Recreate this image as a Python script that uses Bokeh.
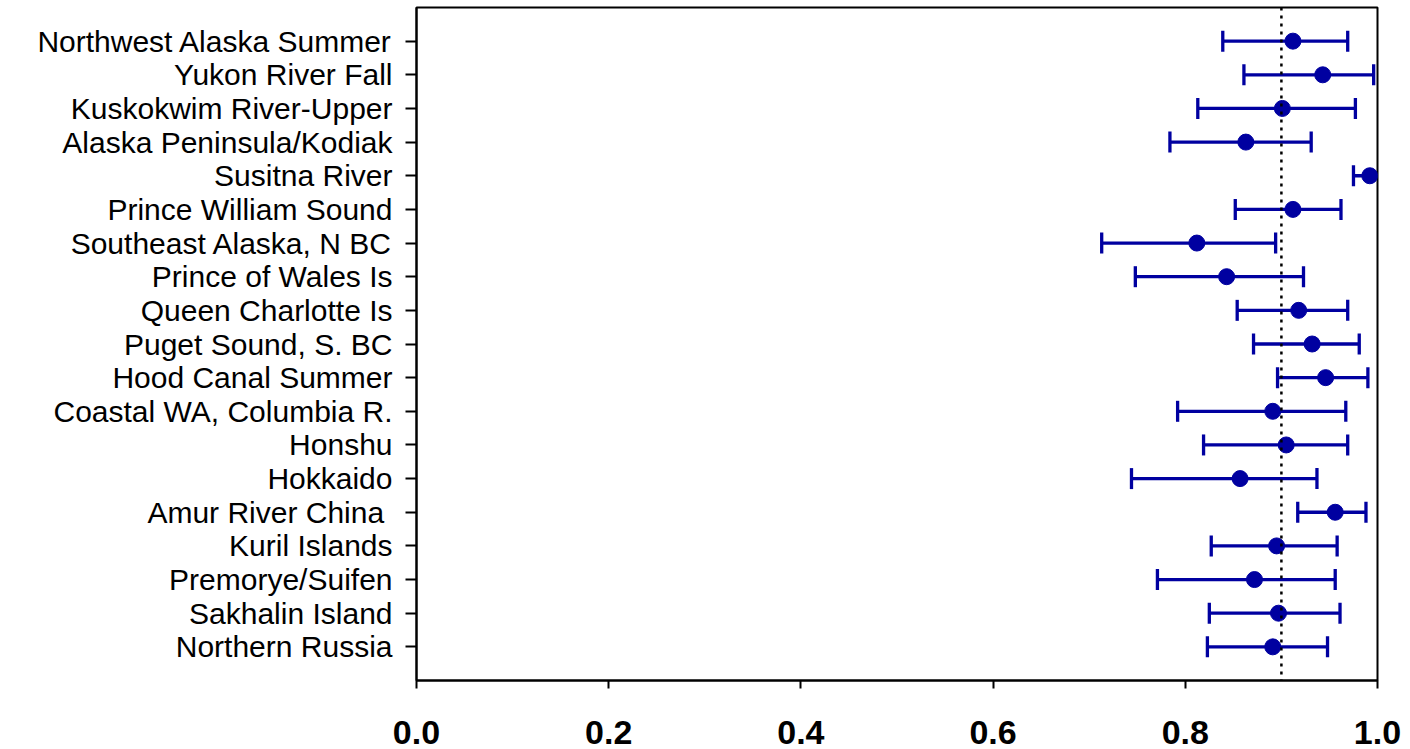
import math
from bokeh.plotting import figure
from bokeh.models import ColumnDataSource, FactorRange, Range1d, Span, FixedTicker
from bokeh.embed import file_html
from bokeh.resources import INLINE

regions = [
    "Northwest Alaska Summer", "Yukon River Fall", "Kuskokwim River-Upper",
    "Alaska Peninsula/Kodiak", "Susitna River", "Prince William Sound",
    "Southeast Alaska, N BC", "Prince of Wales Is", "Queen Charlotte Is",
    "Puget Sound, S. BC", "Hood Canal Summer", "Coastal WA, Columbia R.",
    "Honshu", "Hokkaido", "Amur River China ", "Kuril Islands",
    "Premorye/Suifen", "Sakhalin Island", "Northern Russia",
]
estimate = [0.912, 0.943, 0.901, 0.863, 0.992, 0.912, 0.812, 0.843, 0.918,
            0.932, 0.946, 0.891, 0.905, 0.857, 0.956, 0.895, 0.872, 0.897, 0.891]
lower = [0.839, 0.861, 0.813, 0.784, 0.975, 0.852, 0.713, 0.748, 0.854,
         0.871, 0.896, 0.792, 0.819, 0.744, 0.917, 0.827, 0.771, 0.825, 0.823]
upper = [0.969, 0.996, 0.977, 0.931, 1.010, 0.962, 0.894, 0.923, 0.969,
         0.981, 0.990, 0.967, 0.969, 0.937, 0.988, 0.958, 0.956, 0.961, 0.948]
x_ticks = [0.0, 0.2, 0.4, 0.6, 0.8, 1.0]
reference_line = 0.9

BLUE = "#0000A0"

src = ColumnDataSource(dict(region=regions, est=estimate, lo=lower, hi=upper))

p = figure(
    width=1410, height=749,
    y_range=FactorRange(factors=regions[::-1], range_padding=0.5,
                        range_padding_units="absolute"),
    x_range=Range1d(0, 1),
    output_backend="svg", toolbar_location=None,
    min_border_left=416, min_border_right=33, min_border_top=7,
    min_border_bottom=69,
)
p.xgrid.visible = False
p.ygrid.visible = False
p.outline_line_color = "black"
p.outline_line_width = 2
p.background_fill_color = "white"
p.border_fill_color = "white"

p.segment(x0="lo", y0="region", x1="hi", y1="region", source=src,
          line_color=BLUE, line_width=3.3)
p.scatter(x="lo", y="region", source=src, marker="dash", size=21,
          angle=math.pi / 2, line_color=BLUE, line_width=3.3)
p.scatter(x="hi", y="region", source=src, marker="dash", size=21,
          angle=math.pi / 2, line_color=BLUE, line_width=3.3)
p.scatter(x="est", y="region", source=src, marker="circle", size=16,
          fill_color=BLUE, line_color=BLUE)

p.add_layout(Span(location=reference_line, dimension="height",
                  line_color="black", line_width=2.5, line_dash="3 5"))

xa = p.xaxis[0]
xa.ticker = FixedTicker(ticks=x_ticks)
xa.major_label_overrides = {t: f"{t:.1f}" for t in x_ticks}
xa.minor_tick_line_color = None
xa.major_tick_in = 0
xa.major_tick_out = 8
xa.major_tick_line_width = 2
xa.axis_line_width = 2
xa.axis_line_color = "black"
xa.major_tick_line_color = "black"
xa.major_label_text_font = "Liberation Sans"
xa.major_label_text_font_style = "bold"
xa.major_label_text_font_size = "34px"
xa.major_label_text_color = "black"
xa.major_label_standoff = 32

ya = p.yaxis[0]
ya.major_tick_in = 0
ya.major_tick_out = 11
ya.major_tick_line_width = 2
ya.axis_line_width = 2
ya.axis_line_color = "black"
ya.major_tick_line_color = "black"
ya.major_label_text_font = "Liberation Sans"
ya.major_label_text_font_size = "30px"
ya.major_label_text_color = "black"
ya.major_label_standoff = 13

open("out.html", "w").write(file_html(p, INLINE))
